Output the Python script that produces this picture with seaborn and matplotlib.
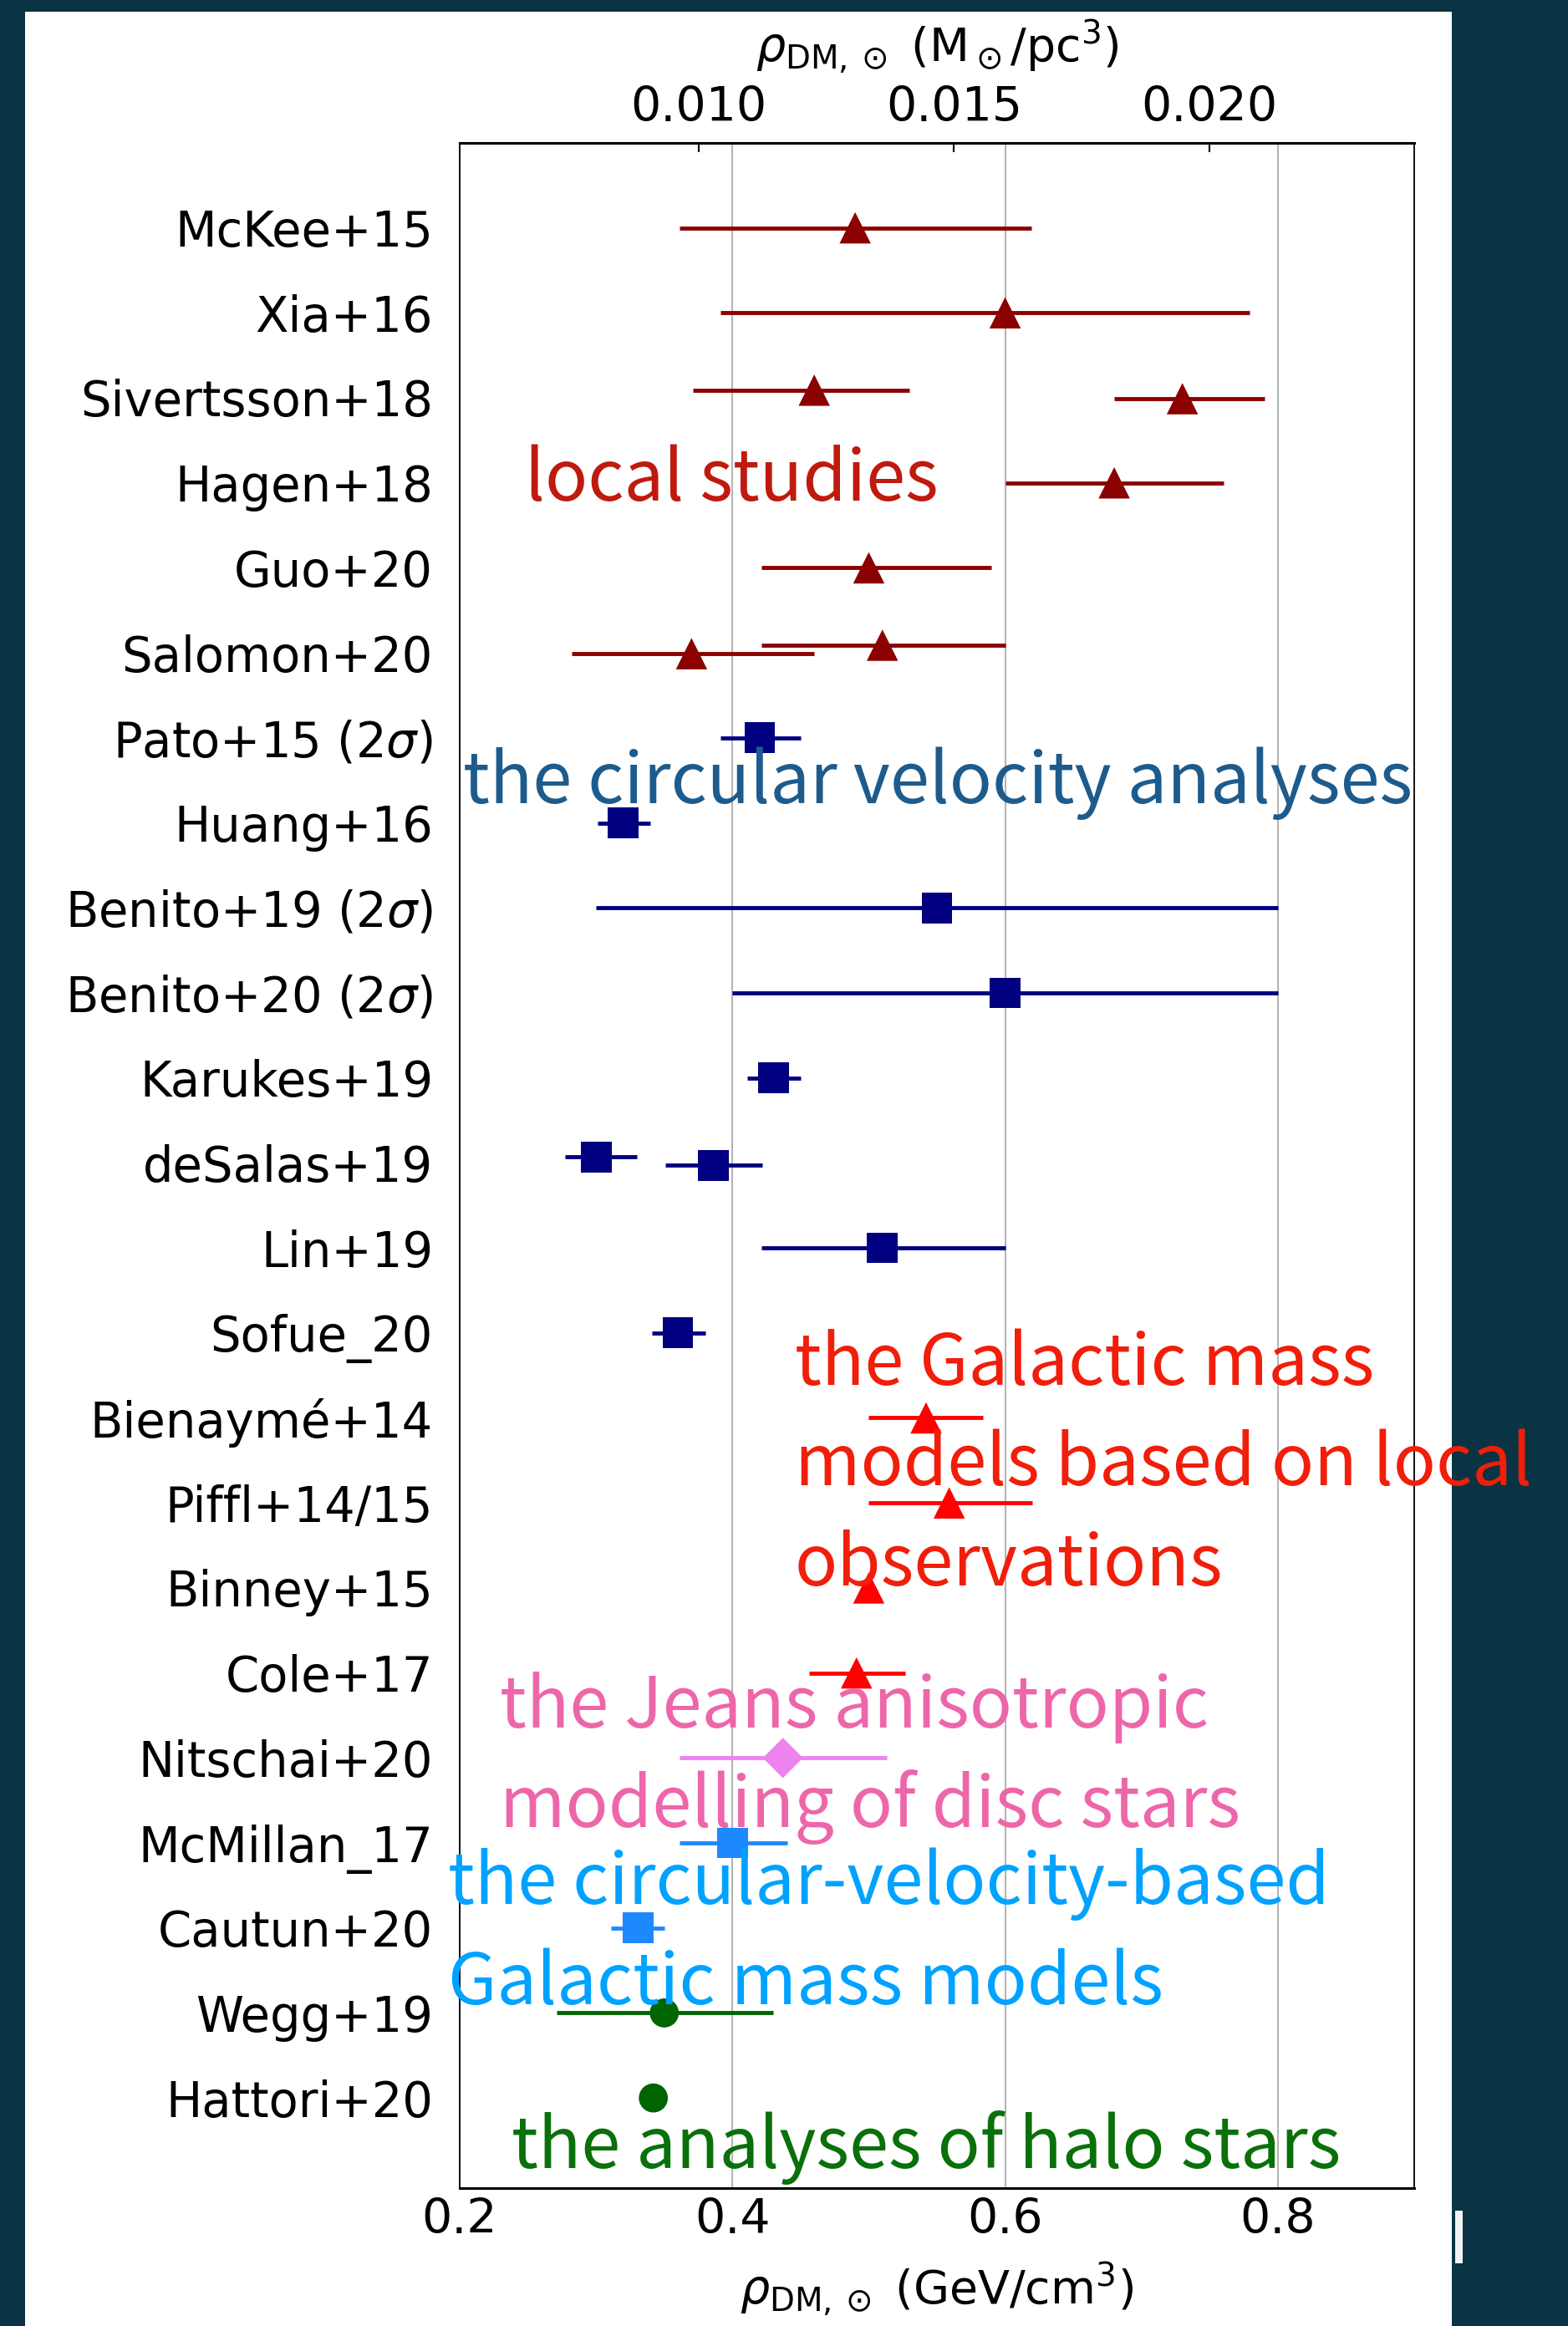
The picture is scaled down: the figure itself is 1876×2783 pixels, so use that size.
import numpy as np
import pandas as pd
import matplotlib.pyplot as plt
import seaborn as sns
from matplotlib.patches import Rectangle

sns.set_theme(style="white")
plt.rcParams["font.family"] = ["DejaVu Sans"]
plt.rcParams["mathtext.fontset"] = "dejavusans"

# studies, top to bottom
studies = ["McKee+15", "Xia+16", "Sivertsson+18", "Hagen+18", "Guo+20", "Salomon+20",
           r"Pato+15 (2$\sigma$)", "Huang+16", r"Benito+19 (2$\sigma$)", r"Benito+20 (2$\sigma$)",
           "Karukes+19", "deSalas+19", "Lin+19", "Sofue_20", "Bienaymé+14", "Piffl+14/15",
           "Binney+15", "Cole+17", "Nitschai+20", "McMillan_17", "Cautun+20", "Wegg+19", "Hattori+20"]

# one entry per estimate (some studies give two)
point_row = [0, 1, 2, 2, 3, 4, 5, 5,
             6, 7, 8, 9, 10, 11, 11, 12, 13,
             14, 15, 16, 17, 18, 19, 20, 21, 22]
point_dodge = [0, 0, -0.09, 0.01, 0, 0, 0.01, -0.09,
               0, 0, 0, 0, 0, -0.07, 0.03, 0, 0,
               0, 0, 0, 0, 0, 0, 0, 0, 0]
rho = [0.490, 0.600, 0.460, 0.730, 0.680, 0.500, 0.370, 0.510,
       0.420, 0.320, 0.550, 0.600, 0.430, 0.300, 0.386, 0.510, 0.360,
       0.542, 0.559, 0.500, 0.491, 0.437, 0.400, 0.331, 0.350, 0.342]
rho_lo = [0.361, 0.391, 0.371, 0.680, 0.600, 0.421, 0.282, 0.421,
          0.391, 0.301, 0.300, 0.400, 0.411, 0.277, 0.351, 0.421, 0.341,
          0.500, 0.500, np.nan, 0.456, 0.361, 0.361, 0.311, 0.271, np.nan]
rho_hi = [0.619, 0.779, 0.530, 0.790, 0.760, 0.590, 0.460, 0.600,
          0.450, 0.340, 0.800, 0.800, 0.450, 0.330, 0.422, 0.600, 0.380,
          0.584, 0.620, np.nan, 0.527, 0.513, 0.440, 0.350, 0.430, np.nan]
method = ["local"] * 8 + ["vcirc"] * 9 + ["mass_local"] * 4 + ["jeans"] + ["mass_vcirc"] * 2 + ["halo"] * 2

GEV_PER_MSUN_PC3 = 37.5

colors = {"local": "#8b0000", "vcirc": "#000080", "mass_local": "#ff0000",
          "jeans": "#ee82ee", "mass_vcirc": "#1e88ff", "halo": "#006400"}
markers = {"local": "^", "vcirc": "s", "mass_local": "^",
           "jeans": "D", "mass_vcirc": "s", "halo": "o"}
sizes = {"local": 27**2, "vcirc": 26.5**2, "mass_local": 27**2,
         "jeans": 24.5**2, "mass_vcirc": 26.5**2, "halo": 25**2}

df = pd.DataFrame({"row": point_row, "dodge": point_dodge, "rho": rho,
                   "lo": rho_lo, "hi": rho_hi, "method": method})
df["y"] = df["row"] + df["dodge"]

fig = plt.figure(figsize=(18.76, 27.83), dpi=100, facecolor="#0a3443")
fig.patches.append(Rectangle((0.016, 0.0), 0.91, 0.995, transform=fig.transFigure,
                             facecolor="white", edgecolor="none", zorder=-10))
fig.patches.append(Rectangle((0.928, 0.027), 0.005, 0.0226, transform=fig.transFigure,
                             facecolor="#f2f2f2", edgecolor="none", zorder=-10))

ax = fig.add_axes([0.2932, 0.0593, 0.6087, 0.8793])
ax.set_facecolor("white")

err = df.dropna(subset=["lo", "hi"])
ax.hlines(err["y"], err["lo"], err["hi"], colors=[colors[m] for m in err["method"]],
          lw=3.5, zorder=2)
sns.scatterplot(data=df, x="rho", y="y", hue="method", style="method", size="method",
                palette=colors, markers=markers, sizes=sizes, linewidth=0,
                legend=False, zorder=3, ax=ax)

ax.set_xlim(0.2, 0.9)
ax.set_ylim(23.06, -1.0)
ax.set_xticks([0.2, 0.4, 0.6, 0.8])
ax.set_xticklabels(["0.2", "0.4", "0.6", "0.8"])
ax.set_yticks(range(len(studies)))
ax.set_yticklabels(studies)
ax.tick_params(axis="y", length=0, pad=23, labelsize=41.5, labelcolor="black")
ax.tick_params(axis="x", length=0, pad=8, labelsize=41, labelcolor="black")
ax.xaxis.grid(True, color="#b5b5b5", lw=1.5)
ax.yaxis.grid(False)
for side in ["left", "right"]:
    ax.spines[side].set_color("black")
    ax.spines[side].set_linewidth(1.3)
for side in ["top", "bottom"]:
    ax.spines[side].set_color("black")
    ax.spines[side].set_linewidth(2.2)

ax.set_xlabel(r"$\rho_{\rm DM,\odot}$ (GeV/cm$^3$)", fontsize=40, color="black")
ax.set_ylabel("")
ax.xaxis.set_label_coords(0.5, -0.050)
ax.xaxis.label.set_va("center")

top = ax.secondary_xaxis("top", functions=(lambda x: x / GEV_PER_MSUN_PC3,
                                           lambda x: x * GEV_PER_MSUN_PC3))
top.set_xticks([0.010, 0.015, 0.020])
top.set_xticklabels(["0.010", "0.015", "0.020"])
top.tick_params(axis="x", direction="in", length=8, width=1.5, pad=10,
                labelsize=41, labelcolor="black", color="black")
top.spines["top"].set_linewidth(2.2)
top.set_xlabel(r"$\rho_{\rm DM,\odot}$ (M$_\odot$/pc$^3$)", fontsize=40, color="black")
top.xaxis.set_label_coords(0.5, 1.0465, transform=ax.transAxes)
top.xaxis.label.set_va("center")

# method annotations: (text, colour, left x in data, baseline row)
note_text = ["local studies", "the circular velocity analyses",
             "the Galactic mass", "models based on local", "observations",
             "the Jeans anisotropic", "modelling of disc stars",
             "the circular-velocity-based", "Galactic mass models",
             "the analyses of halo stars"]
note_color = ["#bf1a0e", "#1d5b8c", "#f01e0a", "#f01e0a", "#f01e0a",
              "#ee66aa", "#ee66aa", "#00a2ff", "#00a2ff", "#0a700a"]
note_x = [0.248, 0.2025, 0.4456, 0.4456, 0.4456, 0.2294, 0.2294, 0.1914, 0.1914, 0.238]
note_y = [3.21, 6.77, 13.61, 14.79, 15.97, 17.64, 18.81, 19.72, 20.90, 22.82]
for t, c, x, y in zip(note_text, note_color, note_x, note_y):
    ax.text(x, y, t, color=c, fontsize=61, ha="left", va="baseline",
            family=["Noto Sans CJK JP", "DejaVu Sans"], zorder=5, clip_on=False)

fig.savefig("out.png", dpi=100, facecolor=fig.get_facecolor())
